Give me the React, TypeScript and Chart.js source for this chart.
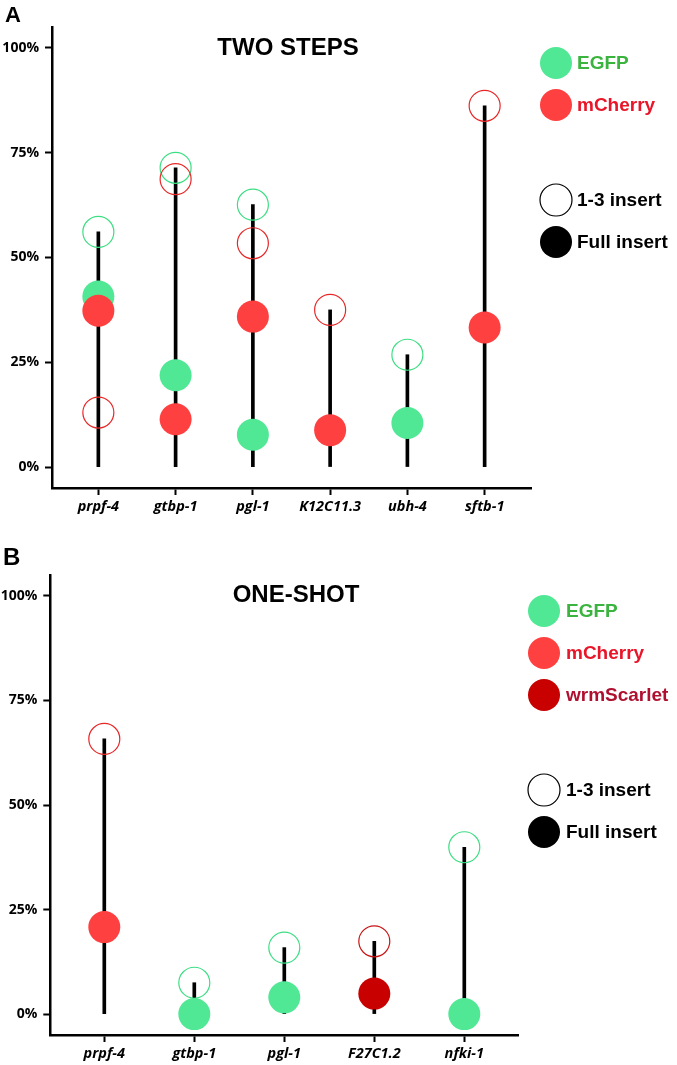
import React, { useEffect, useRef } from 'react';
import { Chart, registerables } from 'chart.js';
Chart.register(...registerables);

// ---------- DATA ----------
const categoriesA = ['prpf-4', 'gtbp-1', 'pgl-1', 'K12C11.3', 'ubh-4', 'sftb-1'];
const egfpPartialA = [56.1, 71.4, 62.6, null, 26.8, null];
const egfpFullA = [40.7, 21.9, 7.7, null, 10.5, null];
const mcherryPartialA = [13.0, 68.7, 53.4, 37.5, null, 86.2];
const mcherryFullA = [37.3, 11.4, 35.9, 8.8, null, 33.3];

const categoriesB = ['prpf-4', 'gtbp-1', 'pgl-1', 'F27C1.2', 'nfki-1'];
const egfpPartialB = [null, 7.5, 15.9, null, 39.9];
const egfpFullB = [null, 0, 4.0, null, 0];
const mcherryPartialB = [65.8, null, null, null, null];
const mcherryFullB = [20.8, null, null, null, null];
const scarletPartialB = [null, null, null, 17.4, null];
const scarletFullB = [null, null, null, 4.9, null];

const yTickValues = [0, 25, 50, 75, 100];

// ---------- STYLE ----------
const GREEN_FILL = 'rgb(80,232,148)';
const GREEN_LINE = 'rgb(60,222,132)';
const RED_FILL = 'rgb(255,64,64)';
const RED_LINE = 'rgb(232,40,40)';
const DARK_FILL = 'rgb(200,0,0)';
const DARK_LINE = 'rgb(200,20,20)';
const SANS = '"Liberation Sans", Arial, sans-serif';
const TICK_FONT = '"Open Sans", "DejaVu Sans", sans-serif';

type Series = { values: (number | null)[]; color: string; open: boolean; order: number };

function pts(values: (number | null)[]) {
  return values.map((v, i) => ({ x: i, y: v })).filter((p) => p.y !== null);
}

function stemTops(series: Series[], n: number) {
  const tops: number[] = [];
  for (let i = 0; i < n; i++) {
    let m = 0;
    series.forEach((s) => {
      if (s.open && s.values[i] != null && (s.values[i] as number) > m) m = s.values[i] as number;
    });
    tops.push(m);
  }
  return tops;
}

const decorPlugin = {
  id: 'panelDecor',
  afterDraw(chart: any, _args: any, opts: any) {
    const ctx = chart.ctx;
    ctx.save();
    ctx.fillStyle = '#000';
    ctx.textAlign = 'left';
    ctx.textBaseline = 'alphabetic';
    ctx.font = `bold ${opts.letterSize}px ${SANS}`;
    ctx.fillText(opts.letter, opts.letterX, opts.letterY);
    ctx.font = `bold 24px ${SANS}`;
    ctx.textAlign = 'center';
    ctx.textBaseline = 'middle';
    ctx.fillText(opts.title, opts.titleX, opts.titleY);
    ctx.textAlign = 'left';
    ctx.font = `bold 19px ${SANS}`;
    opts.items.forEach((it: any) => {
      ctx.beginPath();
      ctx.arc(opts.legendX, it.y, 16, 0, Math.PI * 2);
      if (it.open) {
        ctx.lineWidth = 1.2;
        ctx.strokeStyle = '#000';
        ctx.stroke();
      } else {
        ctx.fillStyle = it.color;
        ctx.fill();
      }
      ctx.fillStyle = it.textColor;
      ctx.fillText(it.label, opts.textX, it.y + 1);
    });
    ctx.restore();
  },
};

function buildConfig(cats: string[], series: Series[], layout: any, decor: any) {
  const tops = stemTops(series, cats.length);
  const datasets: any[] = [
    {
      type: 'bar',
      data: tops.map((t, i) => ({ x: i, y: [0, t] })),
      backgroundColor: '#000',
      barThickness: 3,
      order: 20,
      clip: false,
    },
  ];
  series.forEach((s) => {
    datasets.push({
      type: 'scatter',
      data: pts(s.values),
      pointRadius: s.open ? 15.5 : 16,
      pointHoverRadius: s.open ? 15.5 : 16,
      pointBackgroundColor: s.open ? 'rgba(0,0,0,0)' : s.color,
      pointBorderColor: s.color,
      pointBorderWidth: s.open ? 1.2 : 0,
      pointHoverBorderWidth: s.open ? 1.2 : 0,
      order: s.order,
      clip: false,
    });
  });
  return {
    type: 'bar',
    data: { datasets },
    plugins: [decorPlugin],
    options: {
      responsive: false,
      animation: false,
      events: [],
      layout: { padding: layout.padding },
      plugins: {
        legend: { display: false },
        tooltip: { enabled: false },
        panelDecor: decor,
      },
      scales: {
        x: {
          type: 'linear',
          offset: false,
          min: -0.6,
          max: cats.length - 1 + 0.6,
          afterFit: (s: any) => {
            s.height = layout.xHeight;
          },
          afterBuildTicks: (s: any) => {
            s.ticks = cats.map((_c, i) => ({ value: i }));
          },
          grid: { offset: false, drawOnChartArea: false, drawTicks: true, tickLength: 7, tickColor: '#000', tickWidth: 2 },
          border: { display: true, color: '#000', width: 2.5 },
          ticks: {
            autoSkip: false,
            maxRotation: 0,
            padding: 3,
            color: '#000',
            font: { family: TICK_FONT, size: 14.5, weight: 'bold', style: 'italic' },
            callback: (v: any) => cats[Math.round(v)] ?? '',
          },
        },
        y: {
          type: 'linear',
          min: -5,
          max: 105,
          afterFit: (s: any) => {
            s.width = layout.yWidth;
          },
          afterBuildTicks: (s: any) => {
            s.ticks = yTickValues.map((v) => ({ value: v }));
          },
          grid: { drawOnChartArea: false, drawTicks: true, tickLength: 7, tickColor: '#000', tickWidth: 2 },
          border: { display: true, color: '#000', width: 2.5 },
          ticks: {
            padding: 6,
            color: '#000',
            font: { family: TICK_FONT, size: 14, weight: 'bold' },
            callback: (v: any) => `${v}%`,
          },
        },
      },
    },
  };
}

function Panel(props: { config: any; width: number; height: number; top: number }) {
  const ref = useRef<HTMLCanvasElement | null>(null);
  useEffect(() => {
    if (!ref.current) return;
    const chart = new Chart(ref.current, props.config);
    return () => chart.destroy();
  }, []);
  return (
    <canvas
      ref={ref}
      width={props.width}
      height={props.height}
      style={{ position: 'absolute', left: 0, top: props.top, display: 'block', width: props.width, height: props.height }}
    />
  );
}

export default function App() {
  const cfgA = buildConfig(
    categoriesA,
    [
      { values: egfpPartialA, color: GREEN_LINE, open: true, order: 6 },
      { values: mcherryPartialA, color: RED_LINE, open: true, order: 5 },
      { values: egfpFullA, color: GREEN_FILL, open: false, order: 3 },
      { values: mcherryFullA, color: RED_FILL, open: false, order: 2 },
    ],
    { padding: { left: 0, right: 146, top: 27, bottom: 0 }, xHeight: 32, yWidth: 52 },
    {
      letter: 'A', letterSize: 22, letterX: 5, letterY: 22,
      title: 'TWO STEPS', titleX: 288, titleY: 48,
      legendX: 556, textX: 577,
      items: [
        { label: 'EGFP', color: GREEN_FILL, textColor: 'rgb(58,180,62)', y: 63 },
        { label: 'mCherry', color: RED_FILL, textColor: 'rgb(232,22,40)', y: 105 },
        { label: '1-3 insert', open: true, textColor: '#000', y: 200 },
        { label: 'Full insert', color: '#000', textColor: '#000', y: 242 },
      ],
    }
  );
  const cfgB = buildConfig(
    categoriesB,
    [
      { values: egfpPartialB, color: GREEN_LINE, open: true, order: 7 },
      { values: mcherryPartialB, color: RED_LINE, open: true, order: 6 },
      { values: scarletPartialB, color: DARK_LINE, open: true, order: 5 },
      { values: egfpFullB, color: GREEN_FILL, open: false, order: 3 },
      { values: mcherryFullB, color: RED_FILL, open: false, order: 2 },
      { values: scarletFullB, color: DARK_FILL, open: false, order: 1 },
    ],
    { padding: { left: 0, right: 158.7, top: 55, bottom: 0 }, xHeight: 30, yWidth: 50.3 },
    {
      letter: 'B', letterSize: 24, letterX: 3, letterY: 45,
      title: 'ONE-SHOT', titleX: 296, titleY: 75,
      legendX: 544, textX: 566,
      items: [
        { label: 'EGFP', color: GREEN_FILL, textColor: 'rgb(58,180,62)', y: 91 },
        { label: 'mCherry', color: RED_FILL, textColor: 'rgb(232,22,40)', y: 133 },
        { label: 'wrmScarlet', color: DARK_FILL, textColor: 'rgb(176,16,48)', y: 175 },
        { label: '1-3 insert', open: true, textColor: '#000', y: 270 },
        { label: 'Full insert', color: '#000', textColor: '#000', y: 312 },
      ],
    }
  );
  return (
    <div style={{ position: 'absolute', left: 0, top: 0, width: 677, height: 1065, background: '#fff' }}>
      <Panel config={cfgA} width={677} height={520} top={0} />
      <Panel config={cfgB} width={677} height={545} top={520} />
    </div>
  );
}
